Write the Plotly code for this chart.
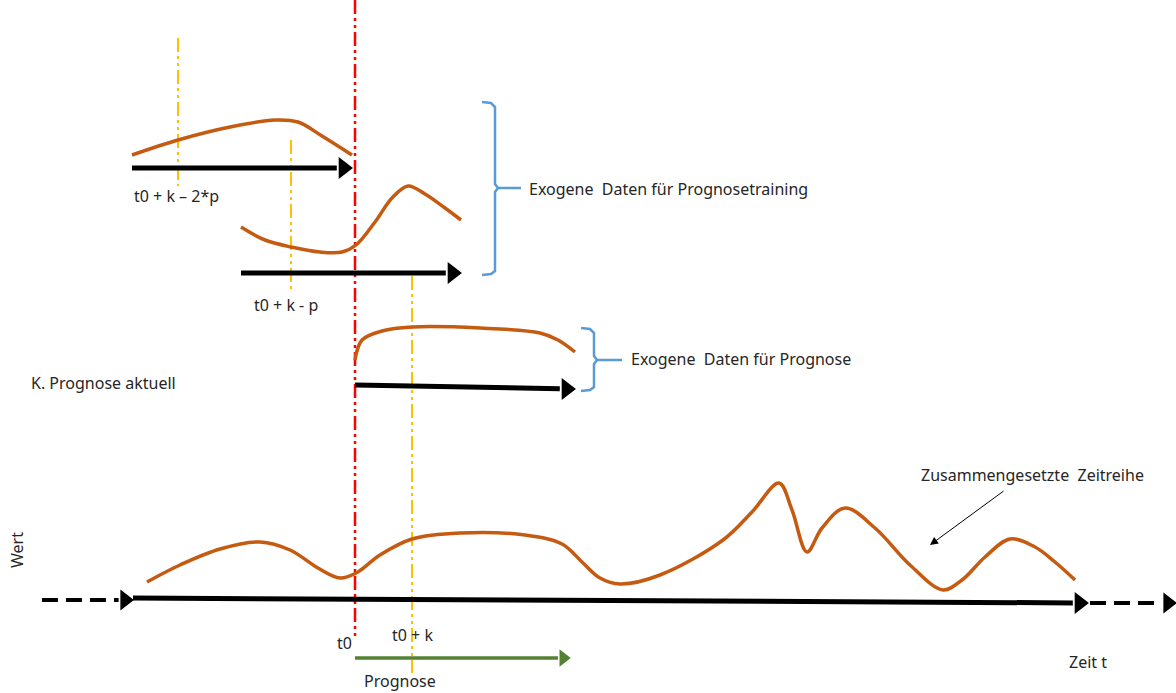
import plotly.graph_objects as go

# canvas size in px (diagram coordinates, y grows downward)
W, H = 1176, 693

# brown curves (x, y)
curve1_x = [132, 178, 230, 275, 298, 322, 352]
curve1_y = [155, 140, 127, 120, 122, 136, 155]
curve2_x = [241, 265, 291, 320, 342, 356, 375, 392, 408, 425, 445, 461]
curve2_y = [227, 240, 247, 252, 252, 245, 222, 198, 186, 194, 208, 220]
curve3_x = [355, 362, 382, 412, 480, 540, 558, 575]
curve3_y = [360, 340, 331, 327, 328, 333, 340, 352]
main_x = [147, 180, 220, 260, 290, 318, 340, 356, 380, 412, 460, 525, 562, 583, 600,
          620, 660, 723, 752, 779, 792, 807, 822, 845, 875, 910, 943, 962, 985,
          1010, 1035, 1055, 1075]
main_y = [582, 565, 549, 542, 550, 568, 578, 573, 555, 539, 533, 535, 544, 563, 578,
          584, 575, 540, 512, 483, 510, 552, 528, 508, 528, 565, 590, 580, 557,
          539, 547, 562, 580]

# arrows: (x_start, x_tip, y_start, y_tip)
black_arrows = [
    (132, 352, 168, 168),
    (241, 461, 273, 273),
    (355, 575, 385, 389),
    (133, 1088, 598, 603),
]
dashed_arrows = [(42, 133, 600, 600), (1090, 1176, 603, 603)]
green_arrow = (355, 570, 658, 658)

# vertical guide lines: (x, y_top, y_bottom)
red_line = (355, 0, 640)
orange_lines = [(178, 38, 186), (291, 140, 292), (412, 276, 673)]

# braces
brace1_x = [482, 491, 495, 495, 498, 495, 495, 491, 482]
brace1_y = [102, 103, 107, 184, 188, 192, 271, 274, 275]
brace1_tick = ([498, 521], [188, 188])
brace2_x = [581, 590, 594, 594, 597, 594, 594, 590, 581]
brace2_y = [328, 329, 333, 356, 360, 364, 387, 390, 391]
brace2_tick = ([597, 622], [360, 360])

# labels: (text, x, y, anchor)
labels = [
    ("t0 + k – 2*p", 176, 196, "center"),
    ("t0 + k - p", 286, 305, "center"),
    ("Exogene  Daten für Prognosetraining", 527, 189, "left"),
    ("Exogene  Daten für Prognose", 629, 359, "left"),
    ("K. Prognose aktuell", 29, 383, "left"),
    ("Zusammengesetzte  Zeitreihe", 919, 475, "left"),
    ("t0", 344, 643, "center"),
    ("t0 + k", 412, 635, "center"),
    ("Zeit t", 1088, 662, "center"),
    ("Prognose", 400, 681, "center"),
]

BROWN = "#C55A11"
FONT = "Noto Sans"
TXT = "#262626"

fig = go.Figure()


def line(x, y, color, width, dash="solid", shape="linear"):
    fig.add_trace(go.Scatter(x=x, y=y, mode="lines", hoverinfo="skip",
                             line=dict(color=color, width=width, dash=dash,
                                       shape=shape, smoothing=1.0)))


def arrow(a, color, width, head, dash="solid"):
    x0, x1, y0, y1 = a
    back = head * 0.8
    xe = x1 - back
    ye = y0 + (y1 - y0) * (xe - x0) / (x1 - x0)
    line([x0, xe], [y0, ye], color, width, dash)
    fig.add_trace(go.Scatter(x=[x1 - head * 0.45], y=[y1], mode="markers",
                             hoverinfo="skip",
                             marker=dict(symbol="triangle-right", size=head,
                                         color=color, line=dict(width=0))))


# guide lines
ddot = "14px,4px,3px,4px,3px,4px"
line([red_line[0]] * 2, [red_line[1], red_line[2]], "#FF0000", 2.5, ddot)
for x, y0, y1 in orange_lines:
    line([x, x], [y0, y1], "#FFC000", 2, ddot)

# curves
for cx, cy in [(curve1_x, curve1_y), (curve2_x, curve2_y),
               (curve3_x, curve3_y), (main_x, main_y)]:
    line(cx, cy, BROWN, 3.5, shape="spline")

# arrows
for a in black_arrows:
    arrow(a, "black", 5, 19)
for a in dashed_arrows:
    arrow(a, "black", 4, 18, dash="16px,8px")
arrow(green_arrow, "#548235", 3.5, 15)

# braces
line(brace1_x, brace1_y, "#5B9BD5", 2.5)
line(*brace1_tick, "#5B9BD5", 2.5)
line(brace2_x, brace2_y, "#5B9BD5", 2.5)
line(*brace2_tick, "#5B9BD5", 2.5)

for text, x, y, anchor in labels:
    fig.add_annotation(x=x, y=y, text=text, showarrow=False, xanchor=anchor,
                       yanchor="middle", font=dict(family=FONT, size=16, color=TXT))

fig.add_annotation(x=17, y=550, text="Wert", showarrow=False, textangle=-90,
                   font=dict(family=FONT, size=16, color=TXT))

# thin pointer to the composite series
fig.add_annotation(x=930, y=545, ax=1005, ay=490, axref="x", ayref="y",
                   text="", showarrow=True, arrowhead=2, arrowsize=1.6,
                   arrowwidth=1, arrowcolor="black")

fig.update_layout(width=W, height=H, margin=dict(l=0, r=0, t=0, b=0),
                  paper_bgcolor="white", plot_bgcolor="white", showlegend=False,
                  xaxis=dict(range=[0, W], visible=False, fixedrange=True),
                  yaxis=dict(range=[H, 0], visible=False, fixedrange=True))

fig.write_html("out.html", config={"displayModeBar": False},
               post_script="document.body.style.margin='0';"
                           "document.body.style.overflow='hidden';")
